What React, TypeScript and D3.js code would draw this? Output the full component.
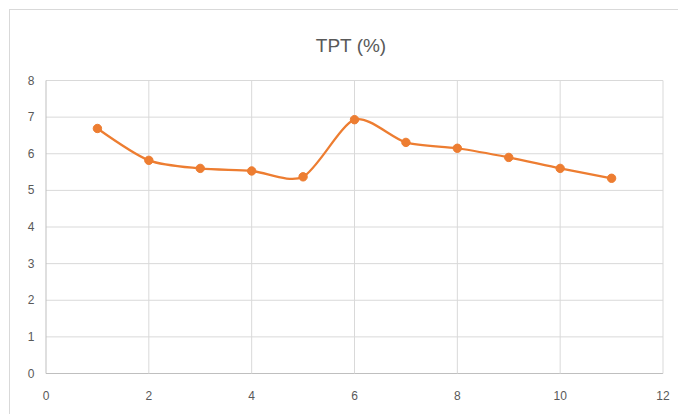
import React from "react";
import * as d3 from "d3";

const xValues = [1, 2, 3, 4, 5, 6, 7, 8, 9, 10, 11];
const tptValues = [6.69, 5.82, 5.6, 5.53, 5.37, 6.93, 6.31, 6.15, 5.9, 5.6, 5.33];
const xTicks = [0, 2, 4, 6, 8, 10, 12];
const yTicks = [0, 1, 2, 3, 4, 5, 6, 7, 8];
const title = "TPT (%)";

const W = 678;
const H = 414;
const plot = { left: 46, right: 663, top: 80.5, bottom: 373.5 };
const orange = "#ED7D31";
const grid = "#d9d9d9";
const labelColor = "#595959";
const font = "'Liberation Sans', Arial, sans-serif";

export default function App() {
  const x = d3.scaleLinear().domain([0, 12]).range([plot.left, plot.right]);
  const y = d3.scaleLinear().domain([0, 8]).range([plot.bottom, plot.top]);
  const pts: [number, number][] = xValues.map((v, i) => [x(v), y(tptValues[i])]);
  const line = d3.line().curve(d3.curveCardinal.tension(0.2))(pts) || "";

  return (
    <svg
      width={W}
      height={H}
      style={{ position: "absolute", left: 0, top: 0, background: "#fff" }}
    >
      <rect x={9.5} y={9.5} width={W} height={H} fill="#fff" stroke="#d9d9d9" strokeWidth={1} />
      <text
        x={351}
        y={52}
        textAnchor="middle"
        fontFamily={font}
        fontSize={19}
        fill={labelColor}
      >
        {title}
      </text>
      {yTicks.map((t) => (
        <g key={"y" + t}>
          <line
            x1={plot.left}
            x2={plot.right}
            y1={y(t)}
            y2={y(t)}
            stroke={t === 0 ? "#bfbfbf" : grid}
            strokeWidth={1}
          />
          <text
            x={31}
            y={y(t) + 4}
            textAnchor="middle"
            fontFamily={font}
            fontSize={12}
            fill={labelColor}
          >
            {t}
          </text>
        </g>
      ))}
      {xTicks.map((t) => (
        <g key={"x" + t}>
          <line
            x1={x(t)}
            x2={x(t)}
            y1={plot.top}
            y2={plot.bottom}
            stroke={t === 0 ? "#bfbfbf" : grid}
            strokeWidth={1}
          />
          <text
            x={x(t)}
            y={400}
            textAnchor="middle"
            fontFamily={font}
            fontSize={12}
            fill={labelColor}
          >
            {t}
          </text>
        </g>
      ))}
      <path d={line} fill="none" stroke={orange} strokeWidth={2.25} strokeLinejoin="round" />
      {pts.map(([px, py], i) => (
        <circle key={i} cx={px} cy={py} r={4.2} fill={orange} stroke={orange} strokeWidth={1} />
      ))}
    </svg>
  );
}
